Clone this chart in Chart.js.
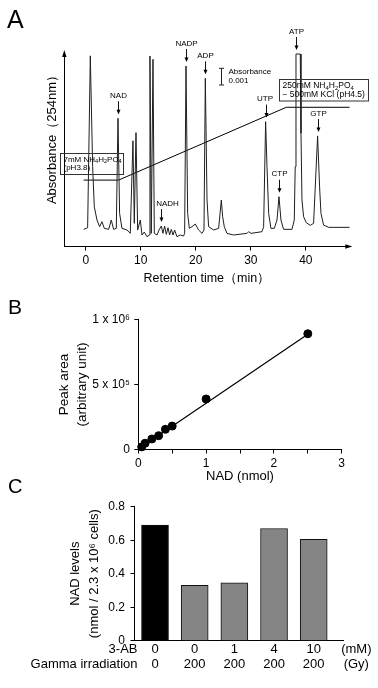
<!DOCTYPE html>
<html><head><meta charset="utf-8">
<script src="https://cdn.jsdelivr.net/npm/chart.js@4.4.1/dist/chart.umd.min.js"></script>
<style>
html,body{margin:0;padding:0;background:#fff;}
#wrap{position:relative;width:378px;height:688px;overflow:hidden;background:#fff;}
canvas{position:absolute;left:0;top:0;}
</style></head><body>
<div id="wrap">
<canvas id="cA" width="378" height="688"></canvas>
<canvas id="cB" width="378" height="688"></canvas>
<canvas id="cC" width="378" height="688"></canvas>
</div>
<script>
// ================= Panel A: HPLC chromatogram =================
const traceTime = [-0.39,0.34,0.83,1.25,1.55,2.04,2.52,2.95,3.37,4.16,4.64,5.06,5.55,5.86,6.15,6.58,7.49,8.09,8.58,8.82,9.13,9.43,9.91,10.22,10.64,11.13,11.55,11.67,11.91,12.22,12.46,12.95,13.31,13.73,14.03,14.33,14.64,14.95,15.24,15.55,15.86,16.15,16.58,17.18,17.79,17.97,18.22,18.52,18.82,19.31,19.91,20.51,21.12,21.49,21.73,22.04,22.33,23.24,24.15,24.64,24.88,25.18,25.67,26.87,29.31,29.60,30.03,32.03,32.33,32.69,32.94,33.24,33.66,34.27,34.76,35.12,35.48,35.96,37.48,37.90,38.07,38.21,38.99,39.12,39.30,39.59,40.08,40.81,41.41,42.14,42.50,42.75,43.23,44.14,47.95];
const traceAbs = [1.03,1.13,11.45,4.80,2.39,1.59,1.19,1.49,1.09,1.03,1.59,1.03,1.09,7.70,1.99,1.09,0.99,0.79,6.35,1.39,6.84,0.99,1.59,0.69,0.87,0.59,0.69,11.44,0.79,11.24,0.79,0.69,0.99,1.23,0.79,1.23,0.73,1.13,0.69,1.03,0.69,0.99,0.59,0.69,0.63,0.79,10.84,1.99,1.09,1.19,1.35,0.99,0.79,0.99,10.10,2.79,1.19,0.99,1.09,2.79,1.79,1.19,0.79,0.69,0.79,0.89,0.79,0.89,1.19,7.50,4.80,1.99,1.09,1.09,1.59,2.99,1.59,1.03,1.03,1.59,4.79,11.56,11.56,6.80,2.79,1.79,1.43,1.27,1.39,6.64,3.59,1.99,1.29,1.15,1.15];
const gradientTime = [-0.39, 5.97, 36.45, 47.95];
const gradientPercentB = [0, 0, 100, 100];
const timeTicks = [0, 10, 20, 30, 40];
const peakNames = ['NAD','NADH','NADP','ADP','UTP','CTP','ATP','GTP'];
const peakTimes = [5.86, 13.73, 18.22, 21.73, 32.69, 35.12, 38.3, 42.14];

// ================= Panel B: NAD calibration =================
const nadAmount = [0.05, 0.1, 0.2, 0.3, 0.4, 0.5, 1.0, 2.5];
const peakArea = [20000, 48000, 81000, 106000, 155000, 180000, 388000, 889000];
const fitAmount = [0, 2.5];
const fitArea = [2000, 885000];
const areaTickValues = [0, 500000, 1000000];
const areaTickLabels = ['0', '5 x 10\u2075', '1 x 10\u2076'];

// ================= Panel C: NAD levels =================
const ab3Conc = ['0', '0', '1', '4', '10'];
const gammaDose = ['0', '200', '200', '200', '200'];
const nadLevels = [0.69, 0.33, 0.345, 0.67, 0.605];
const levelTickValues = [0, 0.2, 0.4, 0.6, 0.8];
const levelTickLabels = ['0', '0.2', '0.4', '0.6', '0.8'];
const rowHeaders = ['3-AB', 'Gamma irradiation'];
const rowUnits = ['(mM)', '(Gy)'];

// ================= helpers =================
const FONT = '"Liberation Sans", Arial, Helvetica, sans-serif';
Chart.defaults.font.family = FONT;
Chart.defaults.color = '#000';

function richText(ctx, str, x, y, size) {
  let cx = x;
  str.split(/(_\d)/).forEach(p => {
    if (!p) return;
    if (p[0] === '_') {
      ctx.font = (size * 0.7) + 'px ' + FONT;
      ctx.fillText(p[1], cx, y + size * 0.28);
      cx += ctx.measureText(p[1]).width;
    } else {
      ctx.font = size + 'px ' + FONT;
      ctx.fillText(p, cx, y);
      cx += ctx.measureText(p).width;
    }
  });
}
function letter(ctx, ch, x, y, size) {
  ctx.save();
  ctx.font = size + 'px ' + FONT;
  ctx.fillStyle = '#000';
  ctx.textAlign = 'left';
  ctx.textBaseline = 'alphabetic';
  ctx.fillText(ch, x, y);
  ctx.restore();
}

const panelAPlugin = {
  id: 'panelA',
  afterDraw(chart, args, opts) {
    const {ctx, chartArea: ca, scales: {x, y}} = chart;
    ctx.save();
    ctx.fillStyle = '#000';
    ctx.strokeStyle = '#000';
    ctx.lineWidth = 1;
    // axis arrowheads
    ctx.beginPath();
    ctx.moveTo(ca.left, ca.top - 4); ctx.lineTo(ca.left - 2.2, ca.top + 3); ctx.lineTo(ca.left + 2.2, ca.top + 3); ctx.closePath(); ctx.fill();
    ctx.beginPath();
    ctx.moveTo(ca.right + 3, ca.bottom); ctx.lineTo(ca.right - 4, ca.bottom - 2.2); ctx.lineTo(ca.right - 4, ca.bottom + 2.2); ctx.closePath(); ctx.fill();

    // y title
    ctx.save();
    ctx.translate(opts.yTitleX, opts.yTitleY);
    ctx.rotate(-Math.PI / 2);
    ctx.font = '13px ' + FONT;
    ctx.textAlign = 'center';
    ctx.textBaseline = 'middle';
    ctx.fillText('Absorbance（254nm）', 0, 0);
    ctx.restore();

    // peak labels with arrows
    ctx.strokeStyle = '#111';
    peakNames.forEach((name, i) => {
      const t = peakTimes[i];
      let top = 0;
      traceTime.forEach((tt, j) => { if (Math.abs(tt - t) <= 0.35) top = Math.max(top, traceAbs[j]); });
      const px = Math.round(x.getPixelForValue(t)) + 0.5;
      const tip = y.getPixelForValue(top) - 4;
      ctx.beginPath(); ctx.moveTo(px, tip - 13); ctx.lineTo(px, tip - 3); ctx.stroke();
      ctx.beginPath(); ctx.moveTo(px - 2, tip - 4.5); ctx.lineTo(px + 2, tip - 4.5); ctx.lineTo(px, tip); ctx.closePath(); ctx.fill();
      ctx.font = '8px ' + FONT;
      ctx.textAlign = 'center';
      ctx.textBaseline = 'middle';
      ctx.fillText(name, px + (opts.labelShift[name] || 0), tip - 18.5);
    });

    // buffer boxes
    ctx.textAlign = 'left';
    ctx.textBaseline = 'middle';
    opts.boxes.forEach(b => {
      const bx = Math.round(x.getPixelForValue(b.t)) + 0.5;
      const by = Math.round(y.getPixelForValue(b.v)) + 0.5;
      ctx.strokeStyle = '#333';
      ctx.strokeRect(bx, by, b.w, b.h);
      b.lines.forEach((ln, k) => richText(ctx, ln, bx + 3, by + b.dy[k], b.size));
    });

    // absorbance scale bar
    const sbx = Math.round(x.getPixelForValue(opts.bar.t)) + 0.5;
    const y1 = y.getPixelForValue(opts.bar.v + opts.bar.len);
    const y2 = y.getPixelForValue(opts.bar.v);
    ctx.strokeStyle = '#222';
    ctx.beginPath();
    ctx.moveTo(sbx, y1); ctx.lineTo(sbx, y2);
    ctx.moveTo(sbx - 2.5, y1); ctx.lineTo(sbx + 2.5, y1);
    ctx.moveTo(sbx - 2.5, y2); ctx.lineTo(sbx + 2.5, y2);
    ctx.stroke();
    ctx.font = '8px ' + FONT;
    ctx.fillText('Absorbance', sbx + 7, y1 + 3);
    ctx.fillText('0.001', sbx + 7, y2 - 4);
    ctx.restore();
    letter(ctx, 'A', 7, 28, 25);
  }
};

const panelBPlugin = {
  id: 'panelB',
  afterDraw(chart) { letter(chart.ctx, 'B', 8, 313.5, 21); }
};

const panelCPlugin = {
  id: 'panelC',
  afterDraw(chart) {
    const {ctx, chartArea: ca, scales: {x}} = chart;
    letter(ctx, 'C', 8, 492.7, 20);
    ctx.save();
    ctx.font = '13px ' + FONT;
    ctx.fillStyle = '#000';
    ctx.textBaseline = 'middle';
    rowHeaders.forEach((h, k) => {
      const yy = x.top + 0.8 + 7.5 + k * 15;
      ctx.textAlign = 'right';
      ctx.fillText(h, 137.5, yy);
      ctx.textAlign = 'center';
      ctx.fillText(rowUnits[k], ca.right + 13, yy);
    });
    ctx.restore();
  }
};

const base = {
  responsive: false, animation: false, devicePixelRatio: 1,
  events: []
};

// ---------- Chart A ----------
new Chart(document.getElementById('cA'), {
  type: 'line',
  data: {
    datasets: [
      { data: traceTime.map((t, i) => ({x: t, y: traceAbs[i]})), borderColor: '#1e1e1e', borderWidth: 1,
        pointRadius: 0, tension: 0, clip: false, yAxisID: 'y' },
      { data: gradientTime.map((t, i) => ({x: t, y: gradientPercentB[i]})), borderColor: '#000', borderWidth: 1,
        pointRadius: 0, tension: 0, clip: false, yAxisID: 'yGrad' }
    ]
  },
  options: Object.assign({}, base, {
    layout: {padding: {top: 54, left: 0, right: 28.7, bottom: 399.5}},
    plugins: {
      legend: {display: false}, tooltip: {enabled: false},
      panelA: {
        yTitleX: 52, yTitleY: 136.5,
        labelShift: {NADH: 6, UTP: -1.5},
        boxes: [
          {t: -4.75, v: 5.63, w: 63, h: 21, size: 8, dy: [5.8, 14.2], lines: ['7mM NH_4H_2PO_4', '(pH3.8)']},
          {t: 35.05, v: 10.06, w: 89, h: 21.5, size: 8.5, dy: [6, 15.5], lines: ['250mM NH_4H_2PO_4', '\u2212 500mM KCl (pH4.5)']}
        ],
        bar: {t: 24.58, v: 9.70, len: 1}
      }
    },
    scales: {
      x: {
        type: 'linear', min: -3.9, max: 47.9,
        afterBuildTicks: s => { s.ticks = timeTicks.map(v => ({value: v})); },
        afterFit: s => { s.height = 42; },
        grid: {display: true, drawOnChartArea: false, drawTicks: true, tickLength: 4, color: '#000', tickColor: '#000'},
        border: {display: true, color: '#000', width: 1},
        ticks: {font: {size: 12}, padding: 3.3, maxRotation: 0, color: '#000'},
        title: {display: true, text: 'Retention time（min）', font: {size: 12.5}, color: '#000', padding: {top: 0, bottom: 2.7}}
      },
      y: {
        type: 'linear', position: 'left', min: 0, max: 11.56,
        afterFit: s => { s.width = 64.3; },
        grid: {display: false, drawTicks: false},
        border: {display: true, color: '#000', width: 1},
        ticks: {display: false}
      },
      yGrad: {type: 'linear', position: 'right', min: -91.2, max: 173.2, display: false}
    }
  }),
  plugins: [panelAPlugin]
});

// ---------- Chart B ----------
new Chart(document.getElementById('cB'), {
  type: 'scatter',
  data: {
    datasets: [
      { type: 'line', data: fitAmount.map((a, i) => ({x: a, y: fitArea[i]})), borderColor: '#000', borderWidth: 1.2,
        pointRadius: 0, clip: false },
      { type: 'scatter', data: nadAmount.map((a, i) => ({x: a, y: peakArea[i]})), backgroundColor: '#000',
        borderColor: '#000', pointRadius: 4, clip: false }
    ]
  },
  options: Object.assign({}, base, {
    layout: {padding: {top: 319.3, left: 0, right: 36.3, bottom: 203.5}},
    plugins: {legend: {display: false}, tooltip: {enabled: false}},
    scales: {
      x: {
        type: 'linear', min: 0, max: 3,
        ticks: {stepSize: 0.5, font: {size: 12}, padding: 3.3, maxRotation: 0, color: '#000',
                callback: v => Number.isInteger(v) ? String(v) : ''},
        afterFit: s => { s.height = 35; },
        grid: {display: true, drawOnChartArea: false, tickLength: 4, color: '#000', tickColor: '#000'},
        border: {display: true, color: '#000', width: 1},
        title: {display: true, text: 'NAD (nmol)', font: {size: 13}, color: '#000', padding: {top: 0, bottom: 0.7}}
      },
      y: {
        type: 'linear', min: 0, max: 1000000,
        afterBuildTicks: s => { s.ticks = areaTickValues.map(v => ({value: v})); },
        ticks: {font: {size: 12}, padding: 4.3, color: '#000', callback: (v, i) => areaTickLabels[i]},
        afterFit: s => { s.width = 138.3; },
        grid: {display: true, drawOnChartArea: false, tickLength: 4, color: '#000', tickColor: '#000'},
        border: {display: true, color: '#000', width: 1},
        title: {display: true, text: ['Peak area', '(arbitrary unit)'], font: {size: 13.5, lineHeight: 1.333},
                color: '#000', padding: {top: 55, bottom: 0}}
      }
    }
  }),
  plugins: [panelBPlugin]
});

// ---------- Chart C ----------
const barColors = ['#000000', '#858585', '#858585', '#858585', '#858585'];
new Chart(document.getElementById('cC'), {
  type: 'bar',
  data: {
    datasets: [{
      data: nadLevels.map((v, i) => ({x: i, y: v})),
      backgroundColor: barColors, borderColor: '#111', borderWidth: 1, barThickness: 27
    }]
  },
  options: Object.assign({}, base, {
    layout: {padding: {top: 506.7, left: 0, right: 34.7, bottom: 17.3}},
    plugins: {legend: {display: false}, tooltip: {enabled: false}},
    scales: {
      x: {
        type: 'linear', min: -0.517, max: 4.746, offset: false,
        afterBuildTicks: s => { s.ticks = ab3Conc.map((_, i) => ({value: i})); },
        ticks: {font: {size: 13, lineHeight: 1.154}, padding: 0.8, maxRotation: 0, autoSkip: false, color: '#000',
                callback: (v, i) => [ab3Conc[i], gammaDose[i]]},
        afterFit: s => { s.height = 30; },
        grid: {display: false, drawTicks: false},
        border: {display: true, color: '#000', width: 1}
      },
      y: {
        type: 'linear', min: 0, max: 0.8,
        afterBuildTicks: s => { s.ticks = levelTickValues.map(v => ({value: v})); },
        ticks: {font: {size: 12}, padding: 5.5, color: '#000', callback: (v, i) => levelTickLabels[i]},
        afterFit: s => { s.width = 134.5; },
        grid: {display: true, drawOnChartArea: false, tickLength: 4, color: '#000', tickColor: '#000'},
        border: {display: true, color: '#000', width: 1},
        title: {display: true, text: ['NAD levels', '(nmol / 2.3 x 10\u2076 cells)'], font: {size: 13, lineHeight: 1.46},
                color: '#000', padding: {top: 65.5, bottom: 0}}
      }
    }
  }),
  plugins: [panelCPlugin]
});
</script>
</body></html>
